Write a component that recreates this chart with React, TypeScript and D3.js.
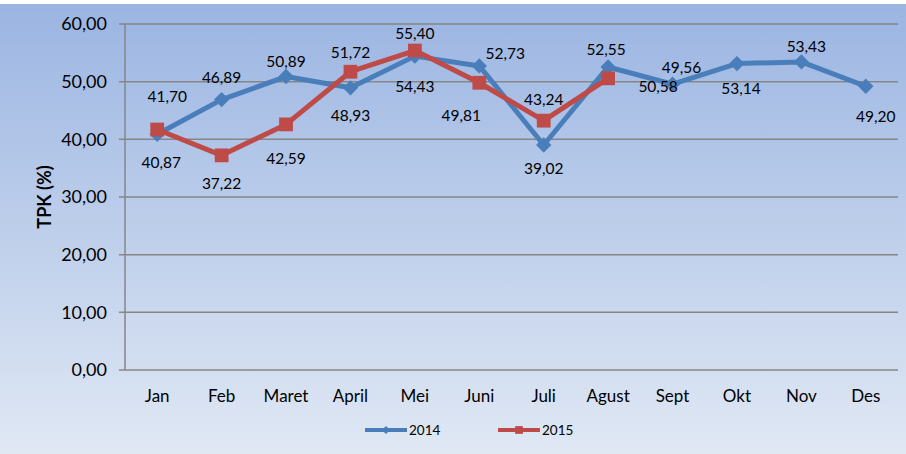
import React, { useRef, useEffect } from 'react';
import * as d3 from 'd3';

// data
const months = ['Jan', 'Feb', 'Maret', 'April', 'Mei', 'Juni', 'Juli', 'Agust', 'Sept', 'Okt', 'Nov', 'Des'];
const tpk2014 = [40.87, 46.89, 50.89, 48.93, 54.43, 52.73, 39.02, 52.55, 49.56, 53.14, 53.43, 49.2];
const tpk2015 = [41.7, 37.22, 42.59, 51.72, 55.4, 49.81, 43.24, 50.58];
const yTicks = [0, 10, 20, 30, 40, 50, 60];

// label nudges (dx, dy) relative to each marker
const labelOffsets2014 = [[4, 28], [0, -22], [0, -15], [0, 28], [0, 30], [26, -12], [0, 24], [-2, -17], [9, -17], [4, 25], [5, -15], [10, 30]];
const labelOffsets2015 = [[10, -33], [0, 28], [0, 34], [0, -19], [0, -17], [-18, 33], [0, -21], [50, 8]];

const W = 906;
const H = 454;
const FONT = 'Lato, "Open Sans", sans-serif';
const BLUE = '#4a7ebb';
const RED = '#be4b48';

const App = () => {
  const svgRef = useRef(null);

  useEffect(() => {
    document.body.style.margin = '0';
    const svg = d3.select(svgRef.current);
    svg.selectAll('*').remove();

    const defs = svg.append('defs');
    const grad = defs.append('linearGradient')
      .attr('id', 'bg').attr('x1', 0).attr('y1', 0).attr('x2', 0).attr('y2', 1);
    grad.append('stop').attr('offset', '0%').attr('stop-color', '#9bb5e2');
    grad.append('stop').attr('offset', '100%').attr('stop-color', '#e0e8f4');

    svg.append('rect').attr('x', 0).attr('y', 0).attr('width', W).attr('height', H).attr('fill', '#ffffff');
    svg.append('rect').attr('x', 0).attr('y', 4).attr('width', W).attr('height', H - 4).attr('fill', 'url(#bg)');

    const left = 125, right = 898, top = 24, bottom = 370;

    const x = d3.scalePoint().domain(months).range([left, right]).padding(0.5);
    const y = d3.scaleLinear().domain([0, 60]).range([bottom, top]);

    // gridlines + ticks
    const grid = svg.append('g');
    yTicks.forEach(t => {
      grid.append('line')
        .attr('x1', left - 6).attr('x2', right)
        .attr('y1', y(t)).attr('y2', y(t))
        .attr('stroke', '#868686').attr('stroke-width', 1.5);
      grid.append('text')
        .attr('x', 107).attr('y', y(t))
        .attr('dy', '0.35em')
        .attr('text-anchor', 'end')
        .attr('font-family', FONT).attr('font-size', 18)
        .attr('fill', '#000')
        .text(d3.format('.2f')(t).replace('.', ','));
    });
    grid.append('line')
      .attr('x1', left).attr('x2', left).attr('y1', top).attr('y2', bottom)
      .attr('stroke', '#868686').attr('stroke-width', 1.5);

    // category labels
    months.forEach(m => {
      svg.append('text')
        .attr('x', x(m)).attr('y', 396).attr('dy', '0.35em')
        .attr('text-anchor', 'middle')
        .attr('font-family', FONT).attr('font-size', 17)
        .attr('fill', '#000')
        .text(m);
    });

    // axis title
    svg.append('text')
      .attr('transform', `translate(45,${(top + bottom) / 2}) rotate(-90)`)
      .attr('dy', '0.35em')
      .attr('text-anchor', 'middle')
      .attr('font-family', FONT).attr('font-size', 18).attr('font-weight', 'bold')
      .attr('fill', '#000')
      .text('TPK (%)');

    const line = d3.line<number>()
      .x((d, i) => x(months[i]))
      .y(d => y(d));

    const diamond = d3.symbol().type(d3.symbolDiamond2).size(150);
    const square = d3.symbol().type(d3.symbolSquare).size(190);

    const drawSeries = (vals, color, sym, offsets) => {
      svg.append('path').datum(vals)
        .attr('d', line)
        .attr('fill', 'none')
        .attr('stroke', color).attr('stroke-width', 5)
        .attr('stroke-linejoin', 'round');
      svg.append('g').selectAll('path').data(vals).enter().append('path')
        .attr('d', sym)
        .attr('transform', (d, i) => `translate(${x(months[i])},${y(d)})`)
        .attr('fill', color);
      return () => {
        svg.append('g').selectAll('text').data(vals).enter().append('text')
          .attr('x', (d, i) => x(months[i]) + offsets[i][0])
          .attr('y', (d, i) => y(d) + offsets[i][1])
          .attr('dy', '0.35em')
          .attr('text-anchor', 'middle')
          .attr('font-family', FONT).attr('font-size', 15.5)
          .attr('fill', '#000')
          .text(d => d3.format('.2f')(d).replace('.', ','));
      };
    };

    const lab1 = drawSeries(tpk2014, BLUE, diamond, labelOffsets2014);
    const lab2 = drawSeries(tpk2015, RED, square, labelOffsets2015);
    lab1();
    lab2();

    // legend
    const legend = [
      { name: '2014', color: BLUE, sym: d3.symbol().type(d3.symbolDiamond2).size(40), x0: 365 },
      { name: '2015', color: RED, sym: d3.symbol().type(d3.symbolSquare).size(60), x0: 498 },
    ];
    legend.forEach(l => {
      const g = svg.append('g').attr('transform', `translate(${l.x0},430)`);
      g.append('line').attr('x1', 0).attr('x2', 42).attr('y1', 0).attr('y2', 0)
        .attr('stroke', l.color).attr('stroke-width', 4);
      g.append('path').attr('d', l.sym).attr('transform', 'translate(21,0)').attr('fill', l.color);
      g.append('text').attr('x', 44).attr('y', 0).attr('dy', '0.35em')
        .attr('font-family', FONT).attr('font-size', 13.5).attr('fill', '#000')
        .text(l.name);
    });
  }, []);

  return <svg ref={svgRef} width={W} height={H} style={{ display: 'block' }}></svg>;
};

export default App;
